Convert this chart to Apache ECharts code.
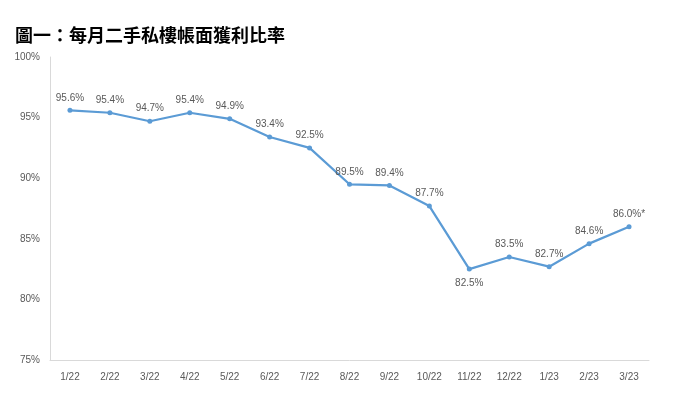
<!DOCTYPE html>
<html><head><meta charset="utf-8">
<script src="https://cdn.jsdelivr.net/npm/echarts@6/dist/echarts.min.js"></script>
<style>html,body{margin:0;padding:0;background:#fff}#c{width:673px;height:394px}</style>
</head><body><div id="c"></div>
<script>
const titleText = '圖一：每月二手私樓帳面獲利比率';
const categories = ['1/22','2/22','3/22','4/22','5/22','6/22','7/22','8/22','9/22','10/22','11/22','12/22','1/23','2/23','3/23'];
const values = [95.6,95.4,94.7,95.4,94.9,93.4,92.5,89.5,89.4,87.7,82.5,83.5,82.7,84.6,86.0];
const labelSuffix = ['','','','','','','','','','','','','','','*'];
const belowIdx = [10];
const yTicks = [75,80,85,90,95,100];

const chart = echarts.init(document.getElementById('c'));
const data = values.map((v,i)=>{
  const o = {value:v};
  if (belowIdx.includes(i)) o.label = {position:'bottom', distance:7};
  return o;
});
chart.setOption({
  animation:false,
  title:{text:titleText,left:10,top:21,textStyle:{fontFamily:'Noto Sans CJK TC',fontSize:18,fontWeight:'bold',color:'#000'}},
  grid:{left:50,right:24,top:57,bottom:34},
  xAxis:{type:'category',data:categories,boundaryGap:true,
    axisLine:{lineStyle:{color:'#d9d9d9',width:1}},axisTick:{show:false},
    axisLabel:{color:'#595959',fontSize:10,fontFamily:'Liberation Sans',margin:12}},
  yAxis:{type:'value',min:yTicks[0],max:yTicks[yTicks.length-1],interval:5,
    axisLine:{show:true,lineStyle:{color:'#d9d9d9',width:1}},axisTick:{show:false},splitLine:{show:false},
    axisLabel:{color:'#595959',fontSize:10,fontFamily:'Liberation Sans',margin:10,formatter:v=>v+'%'}},
  series:[{type:'line',data:data,symbol:'circle',symbolSize:5,
    lineStyle:{color:'#5B9BD5',width:2.25},itemStyle:{color:'#5B9BD5'},
    label:{show:true,position:'top',distance:5,color:'#595959',fontSize:10,fontFamily:'Liberation Sans',
      formatter:p=>p.value.toFixed(1)+'%'+labelSuffix[p.dataIndex]}}]
});
</script></body></html>
